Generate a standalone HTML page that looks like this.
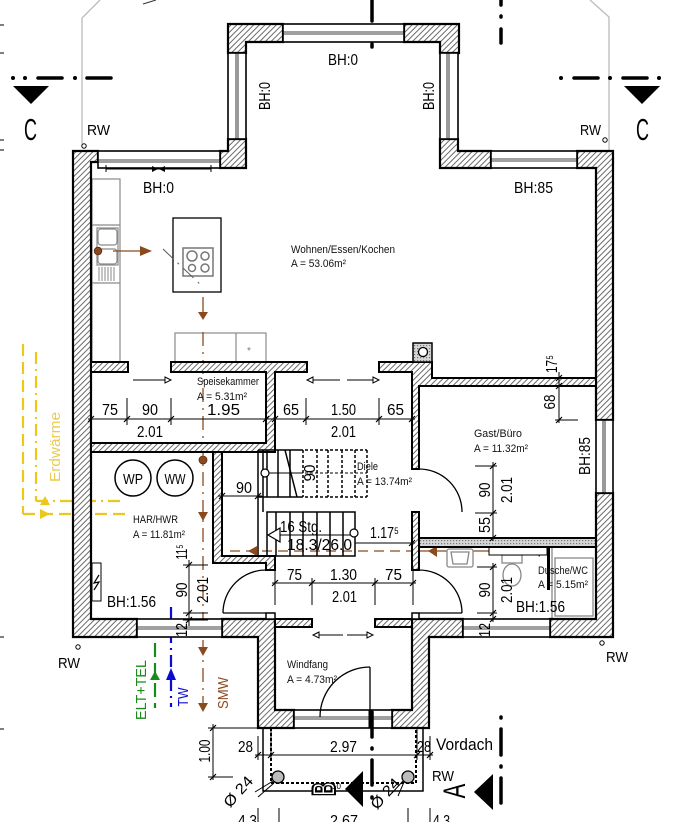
<!DOCTYPE html>
<html><head><meta charset="utf-8"><style>
html,body{margin:0;padding:0;background:#fff;}
svg{display:block;}
text{font-family:"Liberation Sans",sans-serif;}
</style></head><body>
<svg width="682" height="822" viewBox="0 0 682 822" xmlns="http://www.w3.org/2000/svg">
<defs>
<pattern id="h" width="4" height="4" patternUnits="userSpaceOnUse" patternTransform="rotate(45)"><rect width="4" height="4" fill="#fff"/><line x1="1" y1="0" x2="1" y2="4" stroke="#6a6a6a" stroke-width="1"/></pattern>
<pattern id="s" width="3" height="3" patternUnits="userSpaceOnUse"><rect width="3" height="3" fill="#d6d6d6"/><rect width="1.2" height="1.2" fill="#777"/></pattern>
</defs>
<rect width="682" height="822" fill="#fff"/>

<!-- roof outlines -->
<g stroke="#bbb" stroke-width="1.3" fill="none">
<polyline points="82,145 82,18 100,0"/>
<polyline points="609,151 609,17 590,0"/>
</g>
<line x1="143" y1="4" x2="156" y2="0" stroke="#333" stroke-width="1"/>

<!-- left edge ticks -->
<g stroke="#000" stroke-width="1">
<line x1="0" y1="25" x2="4" y2="25"/><line x1="0" y1="53" x2="4" y2="53"/>
<line x1="0" y1="140" x2="4" y2="140"/><line x1="0" y1="150" x2="4" y2="150"/>
<line x1="0" y1="637" x2="4" y2="637"/><line x1="0" y1="729" x2="4" y2="729"/>
</g>

<!-- section C -->
<g fill="#000">
<circle cx="13" cy="78" r="2"/><circle cx="25" cy="78" r="2"/><circle cx="75" cy="78" r="2"/>
<circle cx="561" cy="78" r="2"/><circle cx="610" cy="78" r="2"/><circle cx="659" cy="78" r="2"/>
<polygon points="13,86 49,86 31,104"/><polygon points="624,86 660,86 642,104"/>
</g>
<g stroke="#000" stroke-width="3.5" stroke-linecap="round">
<line x1="38" y1="78" x2="62" y2="78"/><line x1="87" y1="78" x2="111" y2="78"/>
<line x1="574" y1="78" x2="598" y2="78"/><line x1="623" y1="78" x2="647" y2="78"/>
<line x1="372" y1="0" x2="372" y2="21"/><line x1="372" y1="33" x2="372" y2="34"/><line x1="372" y1="44" x2="372" y2="47"/>
<line x1="501" y1="0" x2="501" y2="5"/><line x1="501" y1="16" x2="501" y2="17"/><line x1="501" y1="29" x2="501" y2="43"/>
</g>
<text x="24" y="140" font-size="31" textLength="13" lengthAdjust="spacingAndGlyphs">C</text>
<text x="636" y="140" font-size="31" textLength="13" lengthAdjust="spacingAndGlyphs">C</text>

<!-- RW markers -->
<g fill="#fff" stroke="#000" stroke-width="1">
<circle cx="84" cy="146" r="2.2"/><circle cx="605" cy="140" r="2.2"/>
<circle cx="78" cy="647" r="2.2"/><circle cx="602" cy="643" r="2.2"/>
</g>
<g font-size="15">
<text x="87" y="135" textLength="23" lengthAdjust="spacingAndGlyphs">RW</text>
<text x="580" y="135" textLength="21" lengthAdjust="spacingAndGlyphs">RW</text>
<text x="58" y="668" textLength="22" lengthAdjust="spacingAndGlyphs">RW</text>
<text x="606" y="662" textLength="22" lengthAdjust="spacingAndGlyphs">RW</text>
<text x="432" y="781" textLength="22" lengthAdjust="spacingAndGlyphs">RW</text>
</g>

<!-- yellow Erdwärme -->
<g stroke="#ecc81c" stroke-width="2.2" fill="none">
<line x1="23" y1="344" x2="23" y2="514" stroke-dasharray="12,6"/>
<line x1="36" y1="352" x2="36" y2="501" stroke-dasharray="12,5,2,5"/>
<line x1="36" y1="501" x2="125" y2="501" stroke-dasharray="12,5,2,5"/>
<line x1="23" y1="514" x2="125" y2="514" stroke-dasharray="12,6"/>
</g>
<g fill="#ecc81c">
<polygon points="40,505 50,505 45,496"/><polygon points="40,509 40,519 50,514"/>
</g>
<text transform="translate(60,447) rotate(-90)" text-anchor="middle" font-size="15" fill="#e8cc50" textLength="70" lengthAdjust="spacingAndGlyphs">Erdwärme</text>

<!-- kitchen furniture -->
<g stroke="#8a8a8a" stroke-width="1.2" fill="#fff">
<rect x="92" y="179" width="28" height="183"/>
<line x1="92" y1="225" x2="120" y2="225"/><line x1="92" y1="283" x2="120" y2="283"/>
<rect x="97" y="228" width="21" height="37"/>
<rect x="98" y="229" width="19" height="16" rx="3"/>
<rect x="98" y="249" width="19" height="15" rx="3"/>
<rect x="175" y="333" width="91" height="29"/>
<line x1="236" y1="333" x2="236" y2="362"/>
</g>
<g stroke="#8a8a8a" stroke-width="1">
<line x1="99" y1="267" x2="99" y2="281"/><line x1="102" y1="267" x2="102" y2="281"/><line x1="105" y1="267" x2="105" y2="281"/>
<line x1="108" y1="267" x2="108" y2="281"/><line x1="111" y1="267" x2="111" y2="281"/><line x1="114" y1="267" x2="114" y2="281"/>
</g>
<text x="247" y="354" font-size="10" fill="#777">*</text>
<rect x="173" y="218" width="48" height="74" fill="#fff" stroke="#000" stroke-width="1.3"/>
<rect x="183" y="248" width="30" height="28" fill="#fff" stroke="#777" stroke-width="1.5"/>
<g fill="none" stroke="#777" stroke-width="1.5">
<circle cx="192" cy="256" r="5"/><circle cx="205" cy="256" r="4"/>
<circle cx="192" cy="268" r="3.5"/><circle cx="205" cy="268" r="4"/>
</g>
<line x1="163" y1="249" x2="203" y2="287" stroke="#555" stroke-width="1" stroke-dasharray="14,6,2,6"/>

<!-- brown services -->
<g fill="#8b4a1e">
<circle cx="98" cy="251" r="3.8" stroke="#5a2a0a" stroke-width="0.8"/>
<polygon points="140,246 152,251 140,256"/>
<polygon points="198,312 208,312 203,320"/>
<polygon points="198,512 208,512 203,521"/>
<polygon points="198,647 208,647 203,656"/>
<polygon points="198,703 208,703 203,712"/>
<circle cx="203" cy="460" r="4" stroke="#5a2a0a" stroke-width="0.8"/>
<polygon points="257,546 257,556 248,551"/>
<polygon points="437,546 437,557 428,551"/>
<polygon points="540,546 540,557 531,551"/>
<circle cx="510" cy="552" r="4.2" stroke="#5a2a0a" stroke-width="0.8"/>
<circle cx="573" cy="551" r="4.2" stroke="#5a2a0a" stroke-width="0.8"/>
</g>
<g stroke="#8b4a1e" stroke-width="1.3" fill="none">
<line x1="113" y1="251" x2="140" y2="251"/>
<line x1="203" y1="297" x2="203" y2="313"/>
<line x1="203" y1="332" x2="203" y2="712" stroke-dasharray="14,6,2,6"/>
<line x1="230" y1="551" x2="412" y2="551" stroke-dasharray="10,6"/>
<line x1="419" y1="551" x2="547" y2="551"/>
</g>
<line x1="573" y1="555" x2="573" y2="562" stroke="#777" stroke-width="1.5"/>
<text transform="translate(228,693) rotate(-90)" text-anchor="middle" font-size="15" fill="#8b4a1e" textLength="32" lengthAdjust="spacingAndGlyphs">SMW</text>

<!-- green / blue lines -->
<line x1="155" y1="623" x2="155" y2="708" stroke="#1a8a1a" stroke-width="2.2" stroke-dasharray="14,6"/>
<polygon points="150,680 160,680 155,671" fill="#1a8a1a"/>
<text transform="translate(146,690) rotate(-90)" text-anchor="middle" font-size="15" fill="#1a8a1a" textLength="60" lengthAdjust="spacingAndGlyphs">ELT+TEL</text>
<line x1="171" y1="607" x2="171" y2="707" stroke="#0a0ad0" stroke-width="2.2" stroke-dasharray="12,5,2,5"/>
<polygon points="166,680 176,680 171,668" fill="#0a0ad0"/>
<text transform="translate(188,697) rotate(-90)" text-anchor="middle" font-size="15" fill="#0a0ad0" textLength="19" lengthAdjust="spacingAndGlyphs">TW</text>

<!-- bathroom fixtures -->
<g stroke="#888" stroke-width="1.3" fill="#fff">
<rect x="447" y="549" width="26" height="18" rx="2"/>
<path d="M451 552 L469 552 L467 564 L453 564 Z"/>
<rect x="502" y="555" width="20" height="8"/>
<ellipse cx="512" cy="575" rx="9" ry="11"/>
<rect x="552" y="547" width="44" height="72"/>
<rect x="555" y="558" width="38" height="58"/>
</g>
<rect x="489" y="547" width="58" height="8" fill="#fff" stroke="#000" stroke-width="1"/>

<!-- walls -->
<g fill="url(#h)" stroke="#000" stroke-width="2.2" stroke-linejoin="miter">
<path d="M73 151 H98 V162 H91 V619 H137 V637 H73 Z"/>
<path d="M228 24 H283 V42 H246 V53 H228 Z"/>
<path d="M404 24 H459 V53 H440 V42 H404 Z"/>
<path d="M228 139 H246 V168 H220 V151 H228 Z"/>
<path d="M440 139 H458 V151 H491 V168 H440 Z"/>
<path d="M577 151 H613 V420 H596 V168 H577 Z"/>
<path d="M596 493 H613 V637 H550 V619 H596 Z"/>
<path d="M412 619 H463 V637 H429 V728 H392 V710 H412 Z"/>
<path d="M222 619 H275 V710 H294 V728 H258 V637 H222 Z"/>
</g>
<g fill="url(#h)" stroke="#000" stroke-width="2">
<rect x="91" y="362" width="37" height="10"/>
<path d="M171 362 H307 V372 H275 V452 H91 V443 H266 V372 H171 Z"/>
<path d="M213 452 H222 V556 H275 V570 H266 V563 H213 Z"/>
<path d="M379 362 H432 V378 H596 V386 H419 V469 H412 V372 H379 Z"/>
<rect x="412" y="512" width="7" height="58"/>
<rect x="275" y="619" width="37" height="8"/>
<rect x="375" y="619" width="37" height="8"/>
</g>
<g fill="#fff" stroke="#000" stroke-width="1.5">
<rect x="266" y="613" width="9" height="6"/>
<rect x="412" y="613" width="7" height="6"/>
</g>
<rect x="419" y="538" width="177" height="9" fill="url(#s)" stroke="#000" stroke-width="2"/>
<rect x="547" y="547" width="3" height="43" fill="#000"/>
<rect x="413" y="343" width="19" height="19" fill="url(#s)" stroke="#000" stroke-width="1.5"/>
<circle cx="423" cy="352" r="4.5" fill="#fff" stroke="#000" stroke-width="1.3"/>

<!-- windows -->
<g fill="#fff" stroke="#000" stroke-width="1.6">
<rect x="283" y="24" width="121" height="18"/>
<rect x="228" y="53" width="18" height="86"/>
<rect x="440" y="53" width="18" height="86"/>
<rect x="98" y="151" width="122" height="17"/>
<rect x="491" y="151" width="86" height="17"/>
<rect x="596" y="420" width="17" height="73"/>
<rect x="463" y="619" width="87" height="18"/>
<rect x="137" y="619" width="85" height="18"/>
<rect x="294" y="710" width="98" height="18"/>
</g>
<g stroke="#000" stroke-width="0.8">
<line x1="283" y1="32" x2="404" y2="32"/><line x1="283" y1="34" x2="404" y2="34"/>
<line x1="236" y1="53" x2="236" y2="139"/><line x1="238" y1="53" x2="238" y2="139"/>
<line x1="447" y1="53" x2="447" y2="139"/><line x1="449" y1="53" x2="449" y2="139"/>
<line x1="98" y1="160" x2="220" y2="160"/><line x1="98" y1="162" x2="220" y2="162"/>
<line x1="491" y1="159" x2="577" y2="159"/><line x1="491" y1="161" x2="577" y2="161"/>
<line x1="603" y1="420" x2="603" y2="493"/><line x1="605" y1="420" x2="605" y2="493"/>
<line x1="463" y1="627" x2="550" y2="627"/><line x1="463" y1="629" x2="550" y2="629"/>
<line x1="137" y1="627" x2="222" y2="627"/><line x1="137" y1="629" x2="222" y2="629"/>
<line x1="294" y1="717" x2="392" y2="717"/><line x1="294" y1="719" x2="392" y2="719"/>
</g>

<!-- doors -->
<g fill="none" stroke="#000" stroke-width="1.3">
<path d="M419 469 A43 43 0 0 1 462 512"/>
<path d="M419 570 A43 43 0 0 1 462 613"/>
<line x1="419" y1="613" x2="462" y2="613"/>
<path d="M266 570 A43 43 0 0 0 223 613"/>
<line x1="223" y1="613" x2="266" y2="613"/>
<path d="M320 717 A50 50 0 0 1 370 667"/>
<line x1="370" y1="667" x2="370" y2="717"/>
</g>
<line x1="370" y1="710" x2="370" y2="728" stroke="#000" stroke-width="3"/>

<!-- door arrows -->
<g stroke="#000" stroke-width="1" fill="#fff">
<line x1="133" y1="380" x2="166" y2="380"/><polygon points="165,377 171,380 165,383"/>
<line x1="313" y1="380" x2="340" y2="380"/><polygon points="313,377 307,380 313,383"/>
<line x1="347" y1="380" x2="374" y2="380"/><polygon points="373,377 379,380 373,383"/>
<line x1="318" y1="635" x2="343" y2="635"/><polygon points="319,632 313,635 319,638"/>
<line x1="347" y1="635" x2="368" y2="635"/><polygon points="367,632 373,635 367,638"/>
</g>

<!-- BH:0 dim under window -->
<g stroke="#000" stroke-width="1">
<line x1="106" y1="169" x2="211" y2="169"/>
<line x1="106" y1="165" x2="106" y2="172"/><line x1="211" y1="165" x2="211" y2="172"/>
</g>
<polygon points="152,166 158,169 152,172" fill="#000"/><polygon points="165,166 159,169 165,172" fill="#000"/>

<!-- stairs -->
<g stroke="#000" stroke-width="1.5" fill="none">
<line x1="258" y1="450" x2="258" y2="556"/>
<line x1="258" y1="450" x2="300" y2="450"/>
<line x1="263" y1="450" x2="263" y2="512"/>
<line x1="267" y1="450" x2="267" y2="497"/>
<line x1="278" y1="450" x2="278" y2="497"/>
<line x1="290" y1="450" x2="290" y2="497"/>
<line x1="285" y1="450" x2="297" y2="497"/>
<line x1="258" y1="497" x2="300" y2="497"/>
<rect x="267" y="512" width="88" height="44"/>
<line x1="276" y1="512" x2="276" y2="556"/><line x1="290" y1="512" x2="290" y2="556"/>
<line x1="303" y1="512" x2="303" y2="556"/><line x1="317" y1="512" x2="317" y2="556"/>
<line x1="330" y1="512" x2="330" y2="556"/><line x1="343" y1="512" x2="343" y2="556"/>
<line x1="269" y1="473" x2="300" y2="473" stroke-width="1"/>
</g>
<g stroke="#000" stroke-width="1.5" stroke-dasharray="3,2" fill="none">
<line x1="300" y1="450" x2="367" y2="450"/>
<line x1="300" y1="497" x2="367" y2="497"/>
<line x1="367" y1="450" x2="367" y2="497"/>
<line x1="303" y1="450" x2="303" y2="497"/><line x1="317" y1="450" x2="317" y2="497"/>
<line x1="328" y1="450" x2="328" y2="497"/><line x1="342" y1="450" x2="342" y2="497"/>
<line x1="355" y1="450" x2="355" y2="497"/>
<line x1="300" y1="473" x2="367" y2="473" stroke-width="1"/>
</g>
<g fill="#fff" stroke="#000" stroke-width="1.2">
<circle cx="265" cy="473" r="4"/>
<circle cx="354" cy="533" r="4"/>
<polygon points="268,535 280,528 280,542"/>
</g>
<line x1="280" y1="535" x2="350" y2="535" stroke="#000" stroke-width="1"/>

<!-- dimension lines -->
<g stroke="#000" stroke-width="1" fill="none">
<line x1="88" y1="419" x2="415" y2="419"/>
<line x1="127" y1="398" x2="127" y2="425"/><line x1="171" y1="398" x2="171" y2="425"/>
<line x1="306" y1="398" x2="306" y2="425"/><line x1="379" y1="398" x2="379" y2="425"/>
<line x1="272" y1="583" x2="416" y2="583"/>
<line x1="275" y1="568" x2="275" y2="605"/><line x1="312" y1="578" x2="312" y2="605"/>
<line x1="375" y1="578" x2="375" y2="605"/><line x1="413" y1="567" x2="413" y2="605"/>
<line x1="218" y1="496" x2="262" y2="496"/>
<line x1="355" y1="543" x2="415" y2="543"/>
<line x1="189" y1="560" x2="189" y2="626"/>
<line x1="183" y1="565" x2="208" y2="565"/><line x1="183" y1="613" x2="208" y2="613"/><line x1="183" y1="620" x2="208" y2="620"/>
<line x1="493" y1="462" x2="493" y2="541"/>
<line x1="475" y1="466" x2="497" y2="466"/><line x1="475" y1="513" x2="497" y2="513"/>
<line x1="493" y1="563" x2="493" y2="622"/>
<line x1="477" y1="567" x2="497" y2="567"/><line x1="477" y1="613" x2="497" y2="613"/>
<line x1="559" y1="372" x2="559" y2="423"/>
<line x1="555" y1="420" x2="578" y2="420"/>
<line x1="213" y1="724" x2="213" y2="780"/>
<line x1="208" y1="728" x2="258" y2="728"/><line x1="208" y1="777" x2="233" y2="777"/>
<line x1="255" y1="755" x2="433" y2="755"/>
<line x1="258" y1="736" x2="258" y2="760"/><line x1="271" y1="728" x2="271" y2="760"/>
<line x1="417" y1="728" x2="417" y2="760"/><line x1="430" y1="736" x2="430" y2="760"/>
<line x1="258" y1="808" x2="258" y2="822"/><line x1="279" y1="808" x2="279" y2="822"/>
<line x1="408" y1="808" x2="408" y2="822"/><line x1="430" y1="808" x2="430" y2="822"/>
</g>
<!-- ticks -->
<g stroke="#000" stroke-width="1.2">
<path d="M88 422 L94 416 M124 422 L130 416 M168 422 L174 416 M263 422 L269 416 M272 422 L278 416 M303 422 L309 416 M376 422 L382 416 M409 422 L415 416"/>
<path d="M272 586 L278 580 M309 586 L315 580 M372 586 L378 580 M410 586 L416 580"/>
<path d="M219 499 L225 493 M255 499 L261 493 M409 546 L415 540"/>
<path d="M186 568 L192 562 M186 616 L192 610 M186 623 L192 617"/>
<path d="M490 469 L496 463 M490 516 L496 510 M490 541 L496 535"/>
<path d="M490 570 L496 564 M490 616 L496 610 M490 622 L496 616"/>
<path d="M556 381 L562 375 M556 389 L562 383 M556 423 L562 417"/>
<path d="M210 731 L216 725 M210 780 L216 774"/>
<path d="M255 758 L261 752 M268 758 L274 752 M414 758 L420 752 M427 758 L433 752"/>
</g>

<!-- porch -->
<g fill="none" stroke="#000">
<polyline points="263,728 263,791 423,791 423,728" stroke-width="1.5"/>
<polyline points="271,728 271,783 416,783 416,728" stroke-width="2" stroke-dasharray="3,2"/>
</g>
<g fill="#bbb" stroke="#000" stroke-width="1.3">
<circle cx="278" cy="777" r="6"/><circle cx="408" cy="777" r="6"/>
</g>
<g stroke="#000" stroke-width="1">
<line x1="255" y1="792" x2="273" y2="781"/><line x1="258" y1="797" x2="274" y2="783"/>
<line x1="398" y1="796" x2="404" y2="782"/><line x1="392" y1="793" x2="403" y2="781"/>
</g>
<text transform="translate(242,795) rotate(-48)" text-anchor="middle" font-size="15" textLength="36" lengthAdjust="spacingAndGlyphs">Ø 24</text>
<text transform="translate(389,797) rotate(-48)" text-anchor="middle" font-size="15" textLength="36" lengthAdjust="spacingAndGlyphs">Ø  24</text>

<!-- section A / B -->
<polygon points="345,789 363,771 363,807" fill="#000"/>
<polygon points="474,792 493,774 493,810" fill="#000"/>
<g stroke="#000" stroke-width="3.5" stroke-linecap="round">
<line x1="372" y1="712" x2="372" y2="737"/><line x1="372" y1="748" x2="372" y2="749"/>
<line x1="372" y1="760" x2="372" y2="785"/><line x1="372" y1="797" x2="372" y2="798"/>
<line x1="501" y1="717" x2="501" y2="718"/><line x1="501" y1="729" x2="501" y2="755"/>
<line x1="501" y1="766" x2="501" y2="767"/><line x1="501" y1="778" x2="501" y2="803"/>
</g>
<text transform="translate(335,789) rotate(-90) scale(1,1.7)" text-anchor="middle" font-size="19" font-weight="bold" fill="#fff" stroke="#000" stroke-width="1.2">B</text>
<text x="332" y="789" font-size="8">10</text>
<text transform="translate(465,791) rotate(-90) scale(1,1.45)" text-anchor="middle" font-size="22">A</text>

<!-- room labels -->
<g font-size="11" fill="#111">
<text x="291" y="253" textLength="104" lengthAdjust="spacingAndGlyphs">Wohnen/Essen/Kochen</text>
<text x="291" y="267" textLength="55" lengthAdjust="spacingAndGlyphs">A = 53.06m²</text>
<text x="197" y="385" textLength="62" lengthAdjust="spacingAndGlyphs">Speisekammer</text>
<text x="197" y="400" textLength="50" lengthAdjust="spacingAndGlyphs">A = 5.31m²</text>
<text x="474" y="437" textLength="48" lengthAdjust="spacingAndGlyphs">Gast/Büro</text>
<text x="474" y="452" textLength="54" lengthAdjust="spacingAndGlyphs">A = 11.32m²</text>
<text x="133" y="523" textLength="45" lengthAdjust="spacingAndGlyphs">HAR/HWR</text>
<text x="133" y="538" textLength="52" lengthAdjust="spacingAndGlyphs">A = 11.81m²</text>
<text x="357" y="470" textLength="21" lengthAdjust="spacingAndGlyphs">Diele</text>
<text x="357" y="485" textLength="55" lengthAdjust="spacingAndGlyphs">A = 13.74m²</text>
<text x="538" y="574" textLength="50" lengthAdjust="spacingAndGlyphs">Dusche/WC</text>
<text x="538" y="588" textLength="50" lengthAdjust="spacingAndGlyphs">A = 5.15m²</text>
<text x="287" y="668" textLength="41" lengthAdjust="spacingAndGlyphs">Windfang</text>
<text x="287" y="683" textLength="50" lengthAdjust="spacingAndGlyphs">A = 4.73m²</text>
</g>

<!-- WP / WW -->
<g fill="none" stroke="#000" stroke-width="1.5">
<circle cx="133" cy="478" r="18"/><circle cx="175" cy="478" r="18"/>
</g>
<text x="133" y="484" text-anchor="middle" font-size="15" textLength="20" lengthAdjust="spacingAndGlyphs">WP</text>
<text x="175" y="484" text-anchor="middle" font-size="15" textLength="21" lengthAdjust="spacingAndGlyphs">WW</text>

<!-- electrical box -->
<rect x="92" y="563" width="9" height="38" fill="#fff" stroke="#000" stroke-width="1"/>
<polyline points="99,575 94,583 99,582 94,590" fill="none" stroke="#000" stroke-width="1.2"/>

<!-- BH and dim labels -->
<g font-size="16" fill="#000">
<text x="328" y="65" textLength="30" lengthAdjust="spacingAndGlyphs">BH:0</text>
<text transform="translate(270,96) rotate(-90)" text-anchor="middle" textLength="28" lengthAdjust="spacingAndGlyphs">BH:0</text>
<text transform="translate(434,96) rotate(-90)" text-anchor="middle" textLength="28" lengthAdjust="spacingAndGlyphs">BH:0</text>
<text x="143" y="193" textLength="31" lengthAdjust="spacingAndGlyphs">BH:0</text>
<text x="514" y="193" textLength="39" lengthAdjust="spacingAndGlyphs">BH:85</text>
<text transform="translate(590,456) rotate(-90)" text-anchor="middle" textLength="38" lengthAdjust="spacingAndGlyphs">BH:85</text>
<text x="107" y="607" textLength="49" lengthAdjust="spacingAndGlyphs">BH:1.56</text>
<text x="516" y="612" textLength="49" lengthAdjust="spacingAndGlyphs">BH:1.56</text>

<text x="102" y="415" textLength="16" lengthAdjust="spacingAndGlyphs">75</text>
<text x="142" y="415" textLength="16" lengthAdjust="spacingAndGlyphs">90</text>
<text x="207" y="415" textLength="33" lengthAdjust="spacingAndGlyphs">1.95</text>
<text x="283" y="415" textLength="16" lengthAdjust="spacingAndGlyphs">65</text>
<text x="331" y="415" textLength="25" lengthAdjust="spacingAndGlyphs">1.50</text>
<text x="387" y="415" textLength="17" lengthAdjust="spacingAndGlyphs">65</text>
<text x="137" y="437" textLength="26" lengthAdjust="spacingAndGlyphs">2.01</text>
<text x="331" y="437" textLength="25" lengthAdjust="spacingAndGlyphs">2.01</text>

<text transform="translate(557,364) rotate(-90)" text-anchor="middle" textLength="18" lengthAdjust="spacingAndGlyphs">17⁵</text>
<text transform="translate(555,402) rotate(-90)" text-anchor="middle" textLength="15" lengthAdjust="spacingAndGlyphs">68</text>

<text x="236" y="493" textLength="16" lengthAdjust="spacingAndGlyphs">90</text>
<text transform="translate(315,473) rotate(-90)" text-anchor="middle" textLength="17" lengthAdjust="spacingAndGlyphs">90</text>
<text x="280" y="532" textLength="42" lengthAdjust="spacingAndGlyphs">16  Stg.</text>
<text x="287" y="550" textLength="65" lengthAdjust="spacingAndGlyphs">18.3/26.0</text>
<text x="370" y="538" textLength="29" lengthAdjust="spacingAndGlyphs">1.17⁵</text>

<text x="287" y="580" textLength="15" lengthAdjust="spacingAndGlyphs">75</text>
<text x="330" y="580" textLength="27" lengthAdjust="spacingAndGlyphs">1.30</text>
<text x="385" y="580" textLength="17" lengthAdjust="spacingAndGlyphs">75</text>
<text x="332" y="602" textLength="25" lengthAdjust="spacingAndGlyphs">2.01</text>

<text transform="translate(187,552) rotate(-90)" text-anchor="middle" textLength="15" lengthAdjust="spacingAndGlyphs">11⁵</text>
<text transform="translate(187,590) rotate(-90)" text-anchor="middle" textLength="15" lengthAdjust="spacingAndGlyphs">90</text>
<text transform="translate(208,590) rotate(-90)" text-anchor="middle" textLength="26" lengthAdjust="spacingAndGlyphs">2.01</text>
<text transform="translate(187,630) rotate(-90)" text-anchor="middle" textLength="14" lengthAdjust="spacingAndGlyphs">12</text>

<text transform="translate(490,490) rotate(-90)" text-anchor="middle" textLength="15" lengthAdjust="spacingAndGlyphs">90</text>
<text transform="translate(512,490) rotate(-90)" text-anchor="middle" textLength="26" lengthAdjust="spacingAndGlyphs">2.01</text>
<text transform="translate(490,525) rotate(-90)" text-anchor="middle" textLength="16" lengthAdjust="spacingAndGlyphs">55</text>
<text transform="translate(490,590) rotate(-90)" text-anchor="middle" textLength="15" lengthAdjust="spacingAndGlyphs">90</text>
<text transform="translate(512,590) rotate(-90)" text-anchor="middle" textLength="26" lengthAdjust="spacingAndGlyphs">2.01</text>
<text transform="translate(490,630) rotate(-90)" text-anchor="middle" textLength="14" lengthAdjust="spacingAndGlyphs">12</text>

<text transform="translate(210,751) rotate(-90)" text-anchor="middle" textLength="23" lengthAdjust="spacingAndGlyphs">1.00</text>
<text x="238" y="752" textLength="15" lengthAdjust="spacingAndGlyphs">28</text>
<text x="330" y="752" textLength="27" lengthAdjust="spacingAndGlyphs">2.97</text>
<text x="417" y="752" textLength="14" lengthAdjust="spacingAndGlyphs">28</text>
<text x="436" y="750" font-size="17" textLength="57" lengthAdjust="spacingAndGlyphs">Vordach</text>

<text x="238" y="826" textLength="19" lengthAdjust="spacingAndGlyphs">4.3</text>
<text x="330" y="826" textLength="28" lengthAdjust="spacingAndGlyphs">2.67</text>
<text x="433" y="826" textLength="17" lengthAdjust="spacingAndGlyphs">4.3</text>
</g>
</svg>
</body></html>
